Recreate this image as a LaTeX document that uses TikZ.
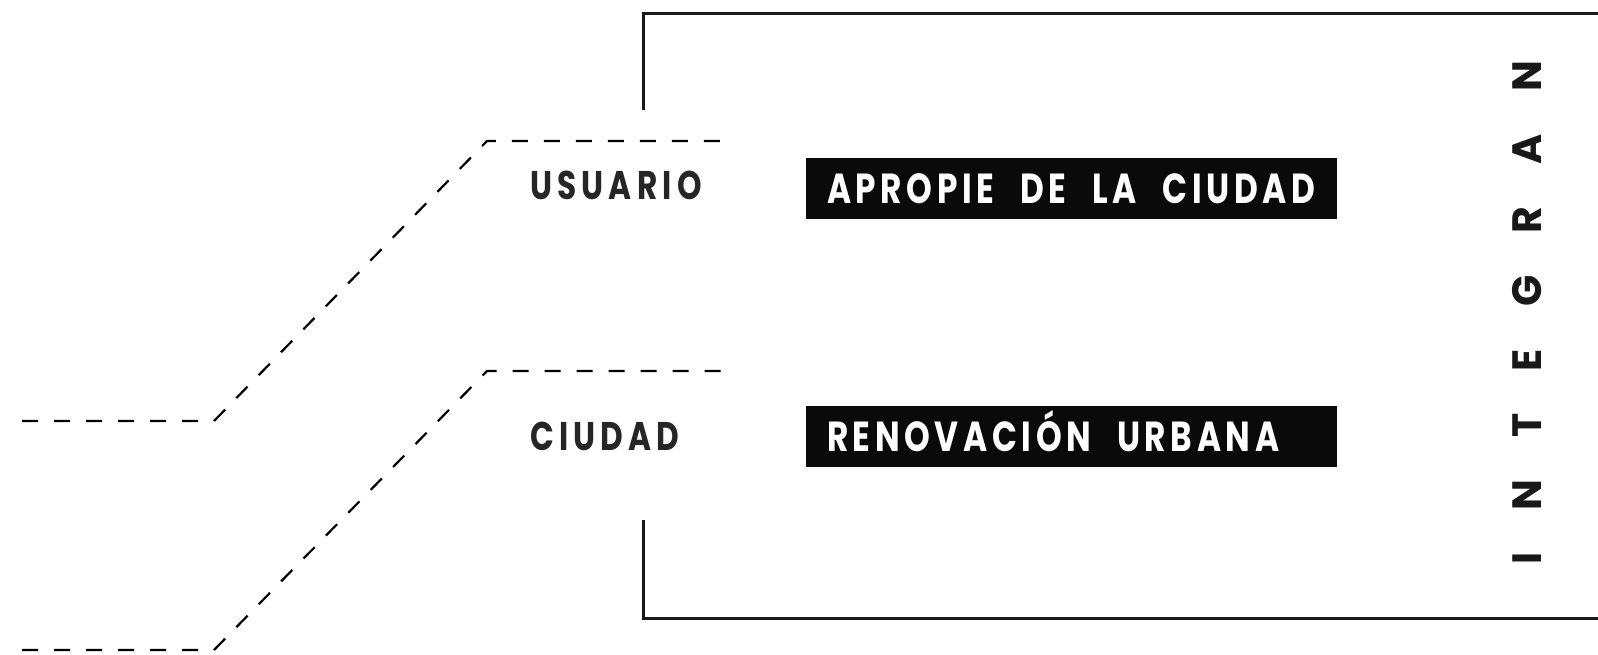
\documentclass[tikz,border=0pt]{standalone}
\usepackage{fontspec}
\setmainfont{Poppins}
\newfontfamily\tagfont[FakeStretch=0.78,LetterSpace=13]{Poppins}
\newfontfamily\goalfont[FakeStretch=0.78,LetterSpace=11]{Poppins}
\newfontfamily\wordfont[LetterSpace=103]{Poppins}
\newcommand\gap{\hspace{12pt}}
\usetikzlibrary{positioning}

\begin{document}
\begin{tikzpicture}[
  x=1pt, y=-1pt,
  tag/.style={anchor=base west, inner sep=0pt, text=black!85,
              font=\tagfont\bfseries\fontsize{40}{40}\selectfont},
  goal/.style={fill=black!96, text=white, anchor=center, align=left,
               text width=489pt, inner xsep=21pt, inner ysep=15.5pt,
               text height=30pt, text depth=0pt,
               font=\goalfont\bfseries\fontsize{42}{42}\selectfont},
  bracket/.style={draw=black!90, line width=3pt},
  link/.style={draw=black, line width=2.2pt, dash pattern=on 16pt off 16pt},
]
\useasboundingbox (0,0) rectangle (1598,654);

% --- labels ---
\node[tag] (usuario) at (530,199) {USUARIO};
\node[tag] (ciudad)  at (530,450) {CIUDAD};

% --- black boxes ---
\node[goal] (apropie)    at (1071.5,188.5) {APROPIE\gap{} DE\gap{} LA\gap{} CIUDAD};
\node[goal] (renovacion) at (1071.5,436.5) {RENOVACIÓN\gap{} URBANA};

% --- vertical word ---
\node[rotate=90, inner sep=0pt, text=black!90,
      font=\wordfont\bfseries\fontsize{41}{41}\selectfont] (integran) at (1527,313) {INTEGRAN};

% --- bracket ---
\coordinate (b1) at (643,110);
\coordinate (b2) at (643,13);
\coordinate (b3) at (1600,13);
\coordinate (b4) at (643,520);
\coordinate (b5) at (643,618);
\coordinate (b6) at (1600,618);
\draw[bracket] (b1) -- (b2) -- (b3);
\draw[bracket] (b4) -- (b5) -- (b6);

% --- dashed links ---
\coordinate (u0) at (22,421);
\coordinate (u1) at (214,421);
\coordinate (u2) at (487,141);
\coordinate (u3) at (727,141);
\coordinate (c0) at (22,650);
\coordinate (c1) at (214,650);
\coordinate (c2) at (487,371);
\coordinate (c3) at (727,371);
\draw[link] (u0) -- (u1) -- (u2) -- (u3);
\draw[link] (c0) -- (c1) -- (c2) -- (c3);

\end{tikzpicture}
\end{document}
